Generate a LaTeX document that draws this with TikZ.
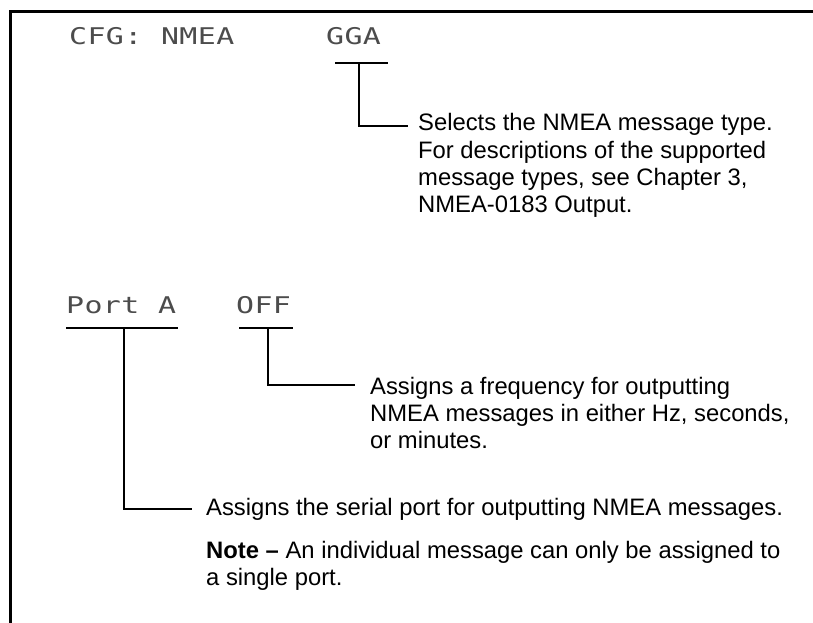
\documentclass[tikz,border=0pt]{standalone}
\usepackage{fontspec}
\usepackage{graphicx}
\setmainfont{Liberation Sans}
\newfontfamily\lcdfont{DejaVu Sans Mono}
\newcommand\lcdtext[1]{\lcdloop#1\relax}
\def\lcdloop#1{\ifx\relax#1\else\makebox[18.4pt]{\scalebox{1.3}[1]{#1}}\expandafter\lcdloop\fi}
\begin{document}
\begin{tikzpicture}[x=1pt,y=-1pt,
  lcd/.style={font=\lcdfont\fontsize{23}{23}\selectfont, text=black!70, inner sep=0pt, anchor=base west},
  desc/.style={font=\fontsize{23.8}{27.2}\selectfont, inner sep=0pt, anchor=base west},
  frameline/.style={line width=3pt},
  bar/.style={line width=2.4pt},
  conn/.style={line width=2.4pt}]
\useasboundingbox (0,0) rectangle (813,623);
\draw[frameline] (10.5,623) -- (10.5,11.5) -- (813,11.5);

% LCD labels
\node[lcd] (cfg) at (68.7,45) {\lcdtext{CFG:~NMEA}};
\node[lcd] (gga) at (325.7,45) {\lcdtext{GGA}};
\node[lcd] (port) at (65.7,313) {\lcdtext{Port~A}};
\node[lcd] (off) at (235.7,313) {\lcdtext{OFF}};

% descriptions
\node[desc] (selects) at (418,131) {\parbox[t]{390pt}{\raggedright Selects the NMEA message type.\\
For descriptions of the supported\\
message types, see Chapter 3,\\
NMEA-0183 Output.}};
\node[desc] (freq) at (370,394) {\parbox[t]{440pt}{\raggedright Assigns a frequency for outputting\\
NMEA messages in either Hz, seconds,\\
or minutes.}};
\node[desc] (assign) at (206,515) {\parbox[t]{600pt}{\raggedright Assigns the serial port for outputting NMEA messages.\\[15.8pt]
\textbf{Note –} An individual message can only be assigned to\\
a single port.}};

% underline bars and taps
\coordinate (ggaL) at (335,63);
\coordinate (ggaR) at (388,63);
\coordinate (ggaT) at (359,63);
\coordinate (portL) at (66,328);
\coordinate (portR) at (178,328);
\coordinate (portT) at (124,328);
\coordinate (offL) at (239,328);
\coordinate (offR) at (293,328);
\coordinate (offT) at (268,328);

\draw[bar] (ggaL) -- (ggaR);
\draw[bar] (portL) -- (portR);
\draw[bar] (offL) -- (offR);

\draw[conn] (ggaT) |- ([xshift=-10pt,yshift=5pt]selects.base west);
\draw[conn] (offT) |- ([xshift=-15pt,yshift=9pt]freq.base west);
\draw[conn] (portT) |- ([xshift=-14pt,yshift=6pt]assign.base west);
\end{tikzpicture}
\end{document}
